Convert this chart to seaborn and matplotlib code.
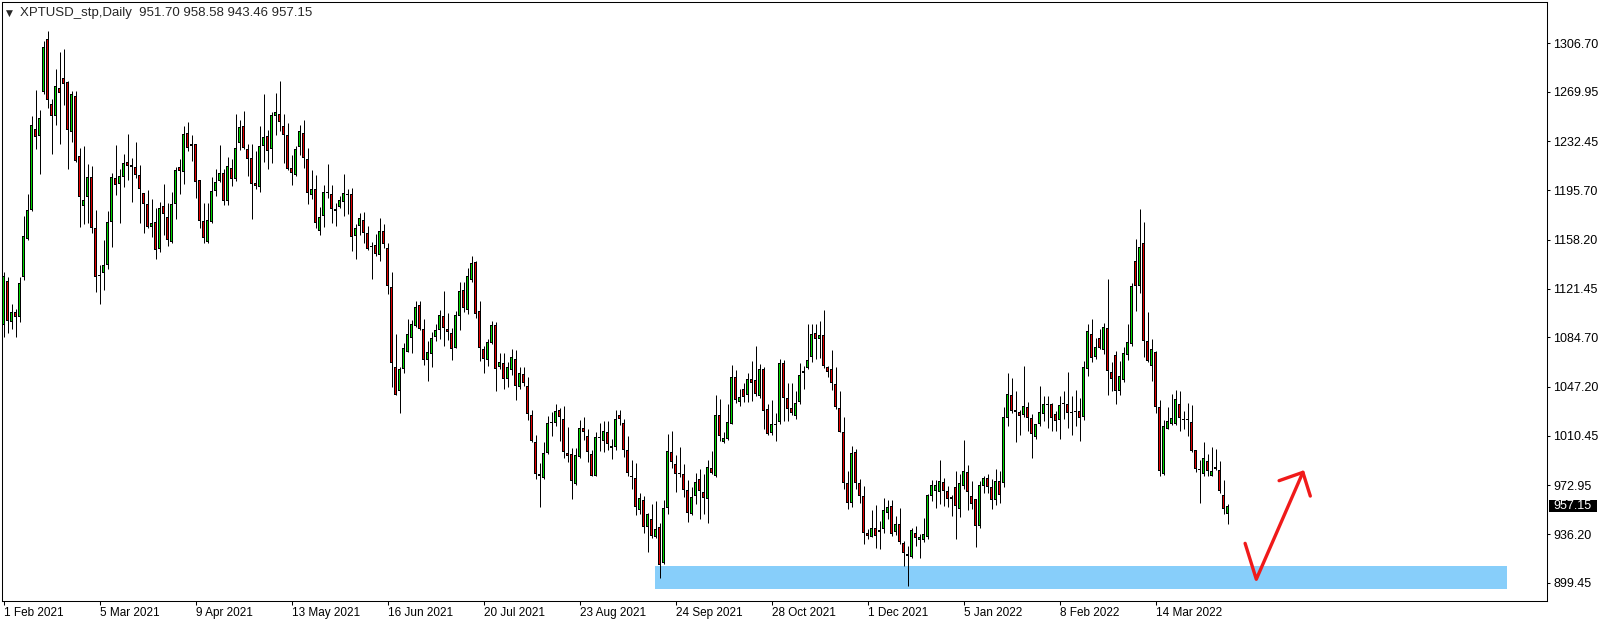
import matplotlib
matplotlib.use("Agg")
import matplotlib.pyplot as plt
import matplotlib.transforms as mtransforms
from matplotlib.patches import Rectangle
import numpy as np
import pandas as pd
import seaborn as sns

# Daily XPTUSD candles (bar 0 = 1 Feb 2021)
opens = [
    1094, 1127, 1096.6, 1104, 1100, 1130, 1158.6, 1181, 1241.6, 1236.6,
    1269.6, 1309.6, 1261, 1251.6, 1272.9, 1280.4, 1277, 1239.9, 1267, 1221.6,
    1183.6, 1190.4, 1205.4, 1167, 1131, 1132.9, 1139, 1172, 1204.6, 1200.6,
    1205.4, 1216.6, 1213.4, 1213.4, 1207.4, 1193.9, 1185.1, 1168.1, 1171.4, 1151.4,
    1183.4, 1175.1, 1156.4, 1185.6, 1213.4, 1209.6, 1238.9, 1228.9, 1230.9, 1203.1,
    1172.1, 1156.4, 1171.9, 1195.1, 1202.6, 1208.9, 1187.6, 1212.6, 1204.4, 1231.4,
    1244.4, 1226.9, 1220.1, 1201.4, 1198.4, 1229.4, 1236.9, 1227.1, 1251.4, 1253.1,
    1243.9, 1237.6, 1212.6, 1206.9, 1228.1, 1238.9, 1219.4, 1192.1, 1196.9, 1164.6,
    1175.9, 1193.9, 1193.1, 1181.4, 1183.1, 1187.1, 1193.1, 1192.6, 1160.9, 1168.9,
    1173.1, 1163.4, 1153.9, 1154.4, 1147.1, 1165, 1151.9, 1122.6, 1061.9, 1043.9,
    1060.6, 1073.9, 1084.4, 1093.1, 1109.1, 1090.6, 1067.4, 1072.4, 1084.9, 1090.1,
    1101.1, 1091.1, 1088.1, 1076.9, 1100.6, 1120.6, 1105.1, 1128.1, 1141.4, 1104.9,
    1075.6, 1067.4, 1080.1, 1093.6, 1061.9, 1065.6, 1053, 1060, 1068, 1047,
    1057, 1048, 1026.3, 1005.8, 980, 978.8, 997.5, 1020, 1020, 1030,
    1023, 997.5, 996.8, 973.8, 994.5, 1016.3, 1010, 996.8, 980, 1008.8,
    1006.8, 1013.3, 1003, 1001.8, 1026.3, 1020, 999.3, 979.4, 978.2, 954.4,
    961.7, 941.2, 947.9, 933.7, 941.9, 914.4, 956.2, 998.4, 989.4, 982.2,
    981.2, 969.2, 951.7, 964.9, 977.4, 968.2, 962.9, 986.2, 980.4, 1026.2,
    1005.6, 1007.9, 1019.2, 1055, 1035.6, 1046, 1041.2, 1052.9, 1052.2, 1040.4,
    1060.4, 1030.4, 1012.4, 1019.1, 1020.4, 1065.4, 1039.1, 1031.1, 1025.4, 1035.9,
    1057.9, 1061.4, 1069.9, 1087.9, 1083.4, 1086.6, 1062.4, 1060.4, 1049.6, 1031.1,
    1013.6, 975, 960, 997.9, 975, 964.7, 937.2, 934.2, 940.5, 939,
    939.7, 952.2, 957.7, 937.7, 944, 929.7, 921.4, 918.9, 937.2, 931.7,
    931.4, 933.9, 964.7, 968.5, 968, 975.5, 968.5, 962.7, 971.7, 955.2,
    972.2, 982.7, 965.2, 962.7, 942.2, 972.5, 978.5, 972, 962, 976,
    975, 1024, 1041.5, 1030.2, 1028.5, 1025.7, 1032.2, 1023.9, 1009.5, 1018.9,
    1026.5, 1034, 1034, 1026.9, 1022.2, 1035.2, 1034.7, 1028.2, 1029.2, 1028.9,
    1024.7, 1060.8, 1087.5, 1069.5, 1083.8, 1075.3, 1092, 1058.3, 1071.3, 1043.8,
    1052.8, 1071.5, 1080, 1142.5, 1123.3, 1155.8, 1082, 1063.3, 1073.3, 1032,
    981.3, 1015.3, 1019.5, 1019.5, 1034, 1022.5, 1023.3, 1020.8, 999.5, 985.3,
    981.3, 991.3, 980.2, 986.7, 984.7, 966, 951.70,
]
highs = [
    1134, 1130, 1110, 1106, 1130, 1176, 1193, 1252, 1271.6, 1256,
    1307.9, 1315.8, 1264.8, 1287, 1299.9, 1302.4, 1277.9, 1270.4, 1270.4, 1227.9,
    1229, 1215.4, 1214.1, 1180.4, 1139, 1157.9, 1179.9, 1208.6, 1229.6, 1212,
    1222.9, 1237.9, 1220.1, 1231.9, 1214.4, 1193.9, 1195.6, 1188.9, 1182.6, 1186.9,
    1200.1, 1186.4, 1194.6, 1213.4, 1219.4, 1244.4, 1247.1, 1237.6, 1230.9, 1203.4,
    1185.9, 1186.4, 1205.9, 1211.4, 1230.1, 1211.4, 1220.9, 1218.9, 1253.4, 1248.4,
    1255.6, 1230.9, 1230.9, 1225.6, 1244.4, 1268.4, 1241.4, 1254.6, 1268.9, 1278.1,
    1253.4, 1246.4, 1222.6, 1228.9, 1245.1, 1248.9, 1227.6, 1210.6, 1206.9, 1183.1,
    1199.4, 1215.1, 1199.4, 1186.4, 1191.4, 1207.6, 1196.9, 1197.1, 1170.1, 1178.4,
    1178.9, 1168.9, 1156.4, 1162.6, 1174.4, 1170, 1155.6, 1133.9, 1086.9, 1062.4,
    1080.6, 1098.6, 1098.1, 1112.4, 1112.4, 1098.6, 1081.9, 1088.6, 1094.4, 1105.6,
    1119.9, 1103.1, 1091.9, 1104.4, 1126.1, 1126.1, 1136.9, 1146.1, 1142.6, 1111.9,
    1078.1, 1083.6, 1096.9, 1096.1, 1073.1, 1073.1, 1066, 1076, 1075, 1062,
    1062, 1055, 1029.5, 1011.3, 990, 1005.5, 1025, 1028, 1034.3, 1031.3,
    1032.5, 1016.8, 1001.3, 1001, 1022.5, 1024.3, 1015.5, 1000, 1013.5, 1020,
    1021.8, 1021.3, 1008, 1030, 1030, 1023, 1010.5, 992.4, 989.9, 966.9,
    964.9, 951.9, 959.2, 961.2, 944.2, 961.9, 1011.9, 1014.2, 996.2, 1001.9,
    989.4, 976.9, 971.9, 982.4, 985.4, 981.6, 992.4, 998.7, 1041.2, 1037.9,
    1012.9, 1034.2, 1064, 1060, 1046, 1050, 1057.4, 1066.6, 1077.9, 1064.9,
    1062.4, 1034.1, 1037.1, 1027.4, 1068.6, 1067.9, 1049.9, 1050.4, 1044.1, 1065.4,
    1062.9, 1094.9, 1094.6, 1094.6, 1097.1, 1105.4, 1063.4, 1075.4, 1062.4, 1044.1,
    1024.9, 984, 1002.9, 1000.4, 978, 972.2, 939.7, 954.7, 958.5, 946,
    963.5, 962.2, 962.2, 950.2, 955.9, 930.9, 927.2, 940.9, 942.2, 935.9,
    948.5, 966.5, 977.2, 977.2, 992.2, 978.5, 972.2, 966, 983.5, 981.7,
    1007.2, 988.5, 976.5, 962.7, 975.9, 979.7, 981.5, 978, 985, 984,
    1032.2, 1057.7, 1053.9, 1043.9, 1029.7, 1063.2, 1035.7, 1026.5, 1019.5, 1048.2,
    1040.7, 1040.7, 1035.2, 1028.9, 1040.7, 1044.4, 1058.5, 1040.2, 1045.2, 1038.9,
    1066.9, 1094.5, 1098.3, 1084.5, 1091.3, 1095.8, 1128.8, 1065.8, 1074, 1067,
    1077, 1094.5, 1125.8, 1158.8, 1181.5, 1171.5, 1104, 1083.3, 1074.5, 1037,
    1022, 1032, 1042, 1045, 1044, 1029, 1035, 1033.8, 999.5, 992,
    1005.8, 997, 1002.2, 1000.2, 991, 976.7, 958.58,
]
lows = [
    1085, 1088, 1091, 1085, 1096, 1128, 1158, 1180, 1226.6, 1207.8,
    1268.6, 1257.8, 1222.9, 1244.6, 1230.4, 1259.6, 1211.6, 1232.4, 1216.6, 1167.9,
    1170.4, 1171, 1163.4, 1119.1, 1110, 1120.4, 1136.6, 1152.9, 1192, 1171,
    1197.9, 1203.6, 1186.9, 1205.1, 1170.9, 1163.4, 1167.1, 1160.6, 1143.9, 1149.4,
    1162.1, 1153.9, 1155.9, 1173.9, 1192.6, 1200.1, 1225.1, 1217.6, 1190.1, 1166.9,
    1155.9, 1155.6, 1170.9, 1191.4, 1201.9, 1184.6, 1184.6, 1198.9, 1202.6, 1225.9,
    1226.4, 1206.4, 1173.9, 1196.9, 1194.4, 1216.9, 1211.4, 1215.9, 1237.6, 1240.1,
    1215.9, 1210.9, 1199.4, 1206.4, 1222.6, 1212.1, 1185.1, 1188.9, 1166.9, 1162.1,
    1167.6, 1190.1, 1170.9, 1168.9, 1181.9, 1176.4, 1177.6, 1150.1, 1143.4, 1161.9,
    1155.9, 1150.9, 1128.9, 1146.4, 1141.9, 1152, 1117.6, 1047.4, 1041.1, 1027.4,
    1057.4, 1073.6, 1073.1, 1092.6, 1090.1, 1063.6, 1051.9, 1062.6, 1081.9, 1083.1,
    1078.1, 1082.4, 1067.6, 1076.4, 1090.1, 1103.6, 1102.6, 1126.1, 1099.4, 1066.9,
    1058.1, 1063.1, 1079.4, 1044.4, 1060.6, 1045.6, 1047, 1056, 1037, 1045.5,
    1048, 1022, 1006, 978, 957, 978, 997, 1010.5, 1017.5, 1006.8,
    993.3, 990.5, 963, 973, 993.8, 1007.5, 990.5, 980, 980, 998.8,
    998, 999.5, 992.5, 1000, 1018.3, 994.5, 980, 969.9, 950.6, 951.2,
    936.9, 922.9, 933.2, 933.2, 903.2, 913.7, 951.2, 985.7, 967.9, 979.4,
    964.2, 945.6, 950.4, 959.2, 947.9, 951.6, 944.9, 981.2, 979.4, 1006.2,
    1004.9, 1006.9, 1019, 1035, 1033, 1036, 1035.9, 1036.6, 1040.4, 1039.1,
    1015.4, 1010.9, 1010.9, 1006.6, 1019.1, 1021.6, 1021.6, 1025.9, 1022.9, 1034.1,
    1045.4, 1060.4, 1065.9, 1068.4, 1069.1, 1061.6, 1054.9, 1044.9, 1030.9, 1012.9,
    970, 955, 957, 970, 960, 928.5, 932.2, 934.2, 926, 925.2,
    937.2, 947.7, 934.7, 935.2, 928.5, 912.2, 896.7, 918.5, 927.2, 918.5,
    930.2, 932.2, 961.5, 955.5, 959.2, 957.2, 956.7, 950.2, 932.2, 949.2,
    970.2, 954.7, 955.2, 926.5, 941, 967.2, 967.2, 955, 958, 960,
    972, 1017.7, 1027.7, 1005.7, 1010.7, 1024.7, 1013.9, 993.9, 1008.2, 1017.7,
    1021.4, 1016.5, 1013.9, 1013.9, 1007.7, 1023.2, 1016.5, 1010.7, 1017.7, 1006.5,
    1022, 1055.8, 1066.3, 1068.3, 1075.8, 1072, 1040.8, 1044.5, 1034.5, 1040.8,
    1051.3, 1067.8, 1077.8, 1104.5, 1118.3, 1069.5, 1065.8, 1052, 1027.8, 980.3,
    980.8, 1015.3, 1018.3, 1018.8, 1013.8, 1015.8, 1010.3, 998.3, 982.8, 959.5,
    980.3, 980.3, 979.7, 984.7, 967.2, 951, 943.46,
]
closes = [
    1131, 1097, 1104, 1100, 1126, 1161, 1181, 1245, 1236, 1250.4,
    1303.6, 1263.6, 1251.6, 1274.6, 1269, 1275.9, 1241, 1268.6, 1217.9, 1190.4,
    1188.6, 1205.4, 1167, 1130.4, 1131.4, 1139, 1171.6, 1205.4, 1199.9, 1206.1,
    1215.9, 1214.1, 1214.9, 1207.4, 1196.9, 1185.6, 1168.1, 1170.6, 1150.9, 1181.9,
    1178.1, 1158.4, 1185.1, 1210.6, 1210.1, 1238.1, 1227.6, 1230.6, 1201.9, 1172.6,
    1159.4, 1173.4, 1195.1, 1201.9, 1208.9, 1187.6, 1213.9, 1203.9, 1227.6, 1243.4,
    1227.6, 1219.4, 1200.1, 1198.9, 1229.4, 1235.9, 1225.1, 1252.6, 1254.4, 1246.9,
    1237.6, 1211.9, 1208.4, 1226.9, 1240.1, 1220.1, 1193.9, 1196.9, 1170.6, 1175.6,
    1194.4, 1193.9, 1181.4, 1180.1, 1188.4, 1193.4, 1192.1, 1160.1, 1166.9, 1174.4,
    1163.1, 1151.4, 1152.6, 1147.6, 1165.1, 1155, 1123.1, 1065.6, 1041.1, 1061.1,
    1076.4, 1086.9, 1094.4, 1107.6, 1091.1, 1067.6, 1073.9, 1083.9, 1089.9, 1101.6,
    1091.9, 1088.9, 1076.1, 1101.6, 1119.9, 1106.6, 1131.1, 1140.6, 1102.4, 1076.9,
    1068.1, 1081.4, 1094.1, 1061.1, 1066.4, 1053.1, 1062, 1070, 1048, 1057.5,
    1050, 1026.8, 1006.3, 981.8, 981.8, 997.5, 1020, 1020.2, 1028.8, 1024.5,
    998.3, 995, 976.3, 995.5, 1016.3, 1013, 998.3, 980, 1009.5, 1008.8,
    1013.8, 1004.5, 1001, 1023, 1023, 999.3, 982.5, 979.4, 956.9, 963.2,
    941.7, 951.2, 934.9, 939.9, 912.9, 955.7, 999.2, 990.7, 981.7, 982.2,
    969.4, 952.4, 964.4, 975.7, 968.7, 963.7, 986.9, 982.4, 1026.2, 1009.9,
    1008.7, 1020.6, 1055, 1037.4, 1040, 1040, 1052.9, 1050.4, 1042.2, 1061.1,
    1029.1, 1011.6, 1019.1, 1019.1, 1065.4, 1039.1, 1030.9, 1027.4, 1035.4, 1056.6,
    1059.6, 1067.9, 1087.4, 1083.4, 1086.6, 1062.9, 1058.6, 1049.9, 1032.4, 1013.6,
    975, 960, 997.4, 975, 965, 937.2, 934.7, 940.5, 934.7, 937.7,
    954, 956.7, 936.5, 943.5, 930.5, 922.2, 919.7, 938.9, 932.9, 934.2,
    936.5, 965.9, 973.5, 973.5, 976.5, 968.5, 962.7, 964.2, 957.2, 974.7,
    983.5, 967.9, 959.2, 942.2, 973.5, 978.7, 971.7, 962, 976, 966,
    1024.7, 1042.2, 1028.9, 1028.2, 1025.2, 1033.2, 1023.9, 1011.9, 1018.9, 1028.5,
    1034.7, 1034, 1023.9, 1021.9, 1033.9, 1034.4, 1027.7, 1028.2, 1028.2, 1023.9,
    1062.5, 1089.5, 1068.8, 1077, 1076.8, 1092.8, 1059.5, 1053.3, 1044.5, 1055.8,
    1072.8, 1080.8, 1123.3, 1123.3, 1152.8, 1082, 1067, 1075.8, 1032, 983.8,
    1017.8, 1021.5, 1023.8, 1037.8, 1023.8, 1022.5, 1022, 999, 985, 985.3,
    993.8, 983.8, 983.5, 985.2, 968.5, 955.2, 957.15,
]

date_labels = ["1 Feb 2021", "5 Mar 2021", "9 Apr 2021", "13 May 2021", "16 Jun 2021",
               "20 Jul 2021", "23 Aug 2021", "24 Sep 2021", "28 Oct 2021", "1 Dec 2021",
               "5 Jan 2022", "8 Feb 2022", "14 Mar 2022"]
date_bars = [0, 24, 48, 72, 96, 120, 144, 168, 192, 216, 240, 264, 288]
price_ticks = [899.45, 936.20, 972.95, 1010.45, 1047.20, 1084.70, 1121.45,
               1158.20, 1195.70, 1232.45, 1269.95, 1306.70]

header = "XPTUSD_stp,Daily  951.70 958.58 943.46 957.15"

# support zone and the hand drawn "bounce" arrow (bar index, price)
zone_bars = [162.9, 375.9]
zone_low, zone_high = 894.9, 912.05
arrow_bars = [310.4, 313.2, 324.85]
arrow_prices = [929.2, 902.1, 982.8]
head_bars = [318.9, 324.85, 326.7]
head_prices = [976.5, 982.8, 964.9]

BULL = "#00d600"
BEAR = "#e00000"

W, H = 1604, 625
Y0, Y1 = 885.7, 1337.7
PX = (Y1 - Y0) / 599  # price units per pixel

df = pd.DataFrame({"open": opens, "high": highs, "low": lows, "close": closes})
df["bar"] = np.arange(len(df))
df["bull"] = df["close"] >= df["open"]
df["body_lo"] = df[["open", "close"]].min(axis=1)
df["body_h"] = (df["close"] - df["open"]).abs()

sns.set_style("white")
plt.rcParams["font.family"] = ["Liberation Sans", "DejaVu Sans"]

fig = plt.figure(figsize=(W / 100, H / 100), dpi=100)
ax = fig.add_axes([2 / W, 24 / H, 1545 / W, 599 / H])

ax.fill_between(zone_bars, zone_low, zone_high, color="#87cefa", lw=0, zorder=1)

# wicks
ax.vlines(df["bar"], df["low"], df["high"], color="black", lw=0.72, zorder=2)
# black outline block, then the coloured core inside it
outline_h = np.maximum(df["body_h"], PX)
ax.bar(df["bar"], outline_h, bottom=df["body_lo"] - (outline_h - df["body_h"]) / 2,
       width=0.75, color="black", lw=0, zorder=3)
core = df[df["body_h"] > 2 * PX]
ax.bar(core["bar"], core["body_h"] - 2 * PX, bottom=core["body_lo"] + PX, width=0.25,
       color=np.where(core["bull"], BULL, BEAR), lw=0, zorder=4)

sns.lineplot(x=arrow_bars, y=arrow_prices, sort=False, color="#f01a1a", lw=2.4,
             ax=ax, zorder=5)
sns.lineplot(x=head_bars, y=head_prices, sort=False, color="#f01a1a", lw=2.4,
             ax=ax, zorder=5)

ax.set_xlim(-0.375, 385.875)
ax.set_ylim(Y0, Y1)

ax.set_xticks(date_bars)
ax.set_xticklabels(date_labels, ha="left")
shift = mtransforms.ScaledTranslation(2 / 100, 0, fig.dpi_scale_trans)
for lbl in ax.get_xticklabels():
    lbl.set_transform(lbl.get_transform() + shift)
ax.tick_params(axis="x", direction="out", length=3, width=0.75, pad=1.5,
               labelsize=8.5, colors="black", bottom=True)

ax.yaxis.tick_right()
ax.set_yticks(price_ticks)
ax.set_yticklabels([f"{p:.2f}" for p in price_ticks])
ax.tick_params(axis="y", direction="out", length=2.2, width=0.75, pad=2.2,
               labelsize=9, colors="black", right=True)
ax.set_xlabel("")
ax.set_ylabel("")

for side in ["left", "right", "top", "bottom"]:
    ax.spines[side].set_visible(True)
    ax.spines[side].set_color("black")
    ax.spines[side].set_linewidth(0.75)

# current price marker on the price scale
last = closes[-1]
blend = mtransforms.blended_transform_factory(ax.transAxes, ax.transData)
ax.add_patch(Rectangle((1547 / 1545, last - 4.6), 48 / 1545, 9.2, transform=blend,
                       facecolor="black", edgecolor="none", clip_on=False, zorder=6))
ax.text(1551 / 1545, last, f"{last:.2f}", transform=blend, color="white", fontsize=9,
        ha="left", va="center", clip_on=False, zorder=7)

fig.text(6 / W, 1 - 13 / H, "\u25bc", fontsize=6.5, family="DejaVu Sans", va="center")
fig.text(20 / W, 1 - 13 / H, header, fontsize=9.5, va="center")

fig.savefig("out.png", dpi=100, facecolor="white")
